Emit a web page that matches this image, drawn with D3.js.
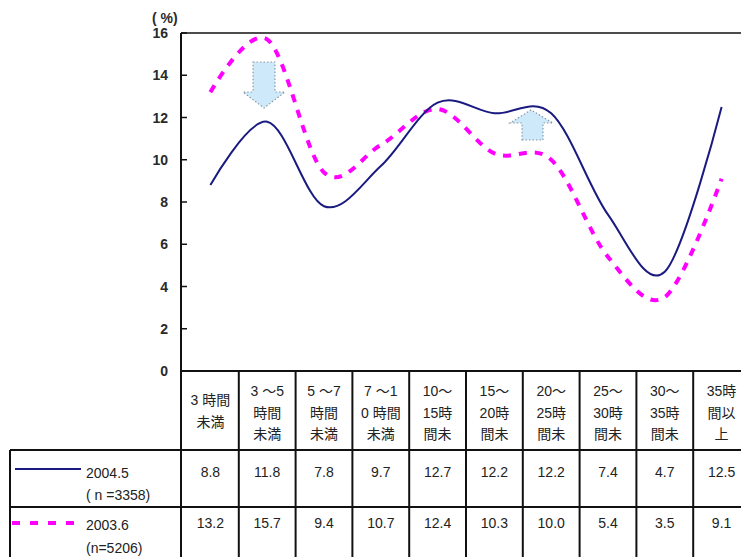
<!DOCTYPE html>
<html><head><meta charset="utf-8">
<script src="https://cdn.jsdelivr.net/npm/d3@7"></script>
<style>body{margin:0;background:#fff}svg{display:block}text{font-family:"Liberation Sans","Noto Sans CJK JP",sans-serif}</style>
</head><body>
<svg id="c" width="741" height="557"></svg>
<script>
const categories = [
  ["3 時間","未満"],
  ["3 ～5","時間","未満"],
  ["5 ～7","時間","未満"],
  ["7 ～1","0 時間","未満"],
  ["10～","15時","間未"],
  ["15～","20時","間未"],
  ["20～","25時","間未"],
  ["25～","30時","間未"],
  ["30～","35時","間未"],
  ["35時","間以","上"]
];
const series2004 = [8.8, 11.8, 7.8, 9.7, 12.7, 12.2, 12.2, 7.4, 4.7, 12.5];
const series2003 = [13.2, 15.7, 9.4, 10.7, 12.4, 10.3, 10.0, 5.4, 3.5, 9.1];
const label2004 = ["2004.5", "( n =3358)"];
const label2003 = ["2003.6", "(n=5206)"];
const yTicks = [0, 2, 4, 6, 8, 10, 12, 14, 16];

const svg = d3.select("#c");
const x = d3.scaleBand().domain(d3.range(categories.length)).range([182, 750]);
const y = d3.scaleLinear().domain([0, 16]).range([371, 33]);
const cx = i => x(i) + x.bandwidth() / 2;

// arrows
const arrowStyle = s => s.attr("fill", "#cde9fa").attr("stroke", "#8a9aa6").attr("stroke-width", 1.2).attr("stroke-dasharray", "1.5,2");
svg.append("path").attr("d", "M253,62 L275,62 L275,92 L285,92 L264,108 L243,92 L253,92 Z").call(arrowStyle);
svg.append("path").attr("d", "M522,140 L543,140 L543,123 L553,123 L531,110 L510,123 L522,123 Z").call(arrowStyle);

// lines
const line = d3.line().x((d, i) => cx(i)).y(d => y(d)).curve(d3.curveCardinal.tension(0));
svg.append("path").datum(series2003).attr("d", line).attr("fill", "none")
  .attr("stroke", "#ff00ff").attr("stroke-width", 4).attr("stroke-dasharray", "8,8");
svg.append("path").datum(series2004).attr("d", line).attr("fill", "none")
  .attr("stroke", "#1a1a80").attr("stroke-width", 2);

// axis
const ax = svg.append("g");
ax.append("line").attr("x1", 181).attr("x2", 181).attr("y1", 33).attr("y2", 557).attr("stroke", "#111").attr("stroke-width", 2);
ax.append("line").attr("x1", 181).attr("x2", 750).attr("y1", 33).attr("y2", 33).attr("stroke", "#111").attr("stroke-width", 1.5);
yTicks.forEach(t => {
  ax.append("line").attr("x1", 181).attr("x2", 187).attr("y1", y(t)).attr("y2", y(t)).attr("stroke", "#111").attr("stroke-width", 1.5);
  ax.append("text").attr("x", 168).attr("y", y(t) + 5).attr("text-anchor", "end")
    .attr("font-size", 14).attr("font-weight", "bold").attr("fill", "#2a2a2a").text(t);
});
svg.append("text").attr("x", 152).attr("y", 23).attr("font-size", 14).attr("font-weight", "bold").attr("fill", "#2a2a2a").text("( %)");

// table
const tg = svg.append("g").attr("stroke", "#111").attr("stroke-width", 2);
tg.append("line").attr("x1", 181).attr("x2", 750).attr("y1", 371).attr("y2", 371);
tg.append("line").attr("x1", 10).attr("x2", 750).attr("y1", 450).attr("y2", 450);
tg.append("line").attr("x1", 10).attr("x2", 750).attr("y1", 507).attr("y2", 507);
tg.append("line").attr("x1", 10).attr("x2", 10).attr("y1", 450).attr("y2", 557);
d3.range(1, categories.length + 1).forEach(i => {
  const xx = i < categories.length ? x(i) : 750;
  tg.append("line").attr("x1", xx).attr("x2", xx).attr("y1", 371).attr("y2", 557);
});

const hdr = svg.append("g").attr("font-size", 14).attr("fill", "#222").attr("text-anchor", "middle");
categories.forEach((lines, i) => {
  const start = lines.length === 2 ? 405 : 396;
  lines.forEach((t, j) => {
    hdr.append("text").attr("x", cx(i)).attr("y", start + j * 21.5).text(t);
  });
});
const vals = svg.append("g").attr("font-size", 14).attr("fill", "#222").attr("text-anchor", "middle");
series2004.forEach((v, i) => vals.append("text").attr("x", cx(i)).attr("y", 477).text(v.toFixed(1)));
series2003.forEach((v, i) => vals.append("text").attr("x", cx(i)).attr("y", 528).text(v.toFixed(1)));

// legend
svg.append("line").attr("x1", 15).attr("x2", 81).attr("y1", 469).attr("y2", 469).attr("stroke", "#1a1a80").attr("stroke-width", 2);
svg.append("line").attr("x1", 12).attr("x2", 82).attr("y1", 523).attr("y2", 523).attr("stroke", "#ff00ff").attr("stroke-width", 4).attr("stroke-dasharray", "8,10");
const lg = svg.append("g").attr("font-size", 14).attr("fill", "#222");
lg.append("text").attr("x", 86).attr("y", 478).text(label2004[0]);
lg.append("text").attr("x", 86).attr("y", 500).text(label2004[1]);
lg.append("text").attr("x", 86).attr("y", 530).text(label2003[0]);
lg.append("text").attr("x", 86).attr("y", 553).text(label2003[1]);
</script>
</body></html>
